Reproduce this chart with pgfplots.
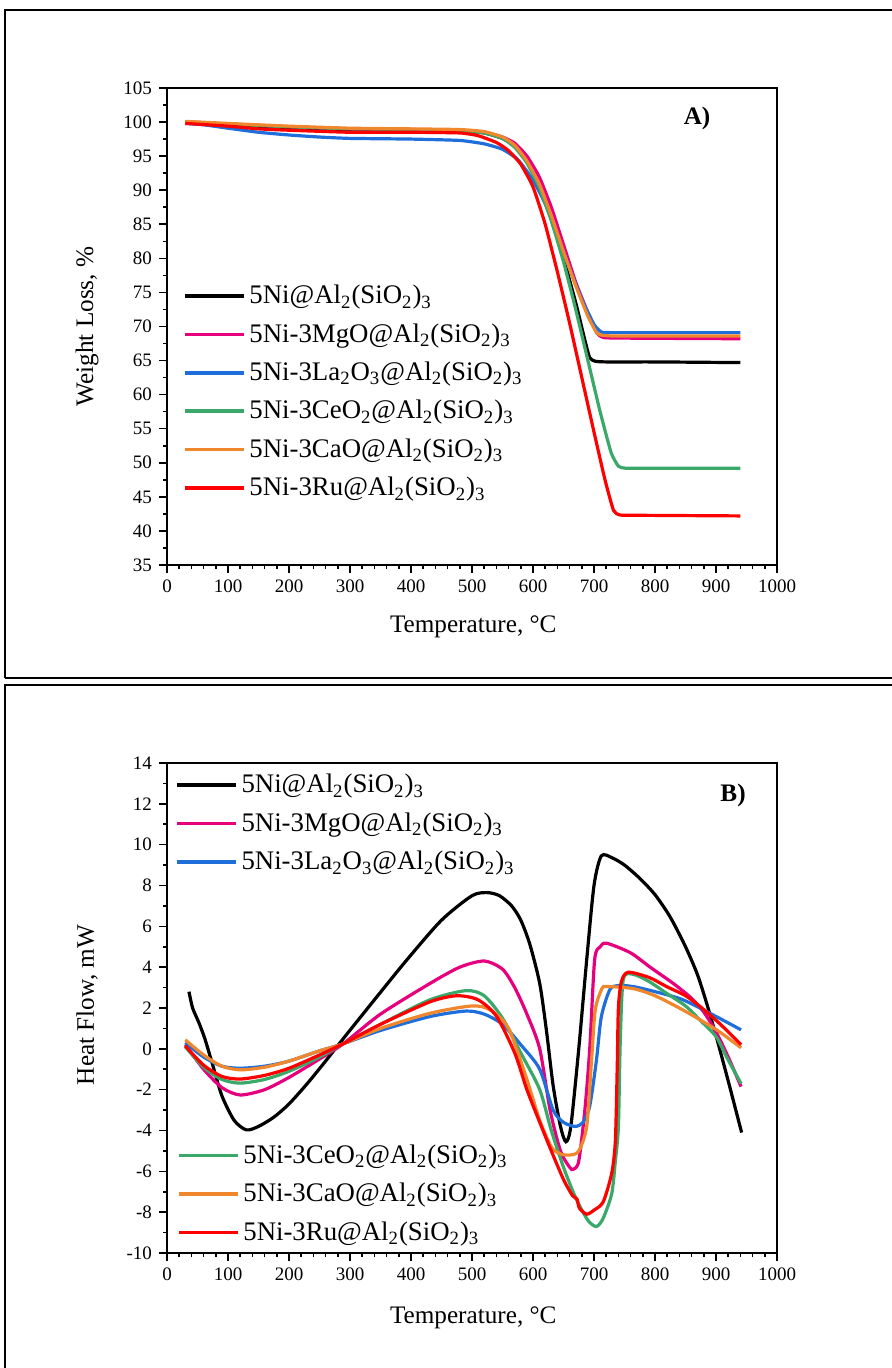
\documentclass[border=0pt]{standalone}
\usepackage{fontspec}
\setmainfont{Liberation Serif}
\usepackage{pgfplots}
\pgfplotsset{compat=1.18}
\definecolor{cMg}{RGB}{230,0,126}
\definecolor{cLa}{RGB}{30,110,220}
\definecolor{cCe}{RGB}{58,168,104}
\definecolor{cCa}{RGB}{240,135,45}
\definecolor{cRu}{RGB}{255,0,0}
\pgfplotsset{
  myax/.style={scale only axis, width=305pt, xmin=0, xmax=1000,
    xtick distance=100, minor x tick num=4, minor y tick num=1,
    axis line style={line width=1pt},
    every tick/.style={black, line width=0.8pt},
    major tick length=4pt, minor tick length=2pt, tick align=outside,
    xtick pos=bottom, ytick pos=left,
    ticklabel style={font=\fontsize{9.5}{11}\selectfont},
    /pgf/number format/assume math mode=true,
    /pgf/number format/1000 sep={},
    label style={font=\fontsize{12.6}{15}\selectfont},
    xlabel={Temperature, °C},
    xlabel style={at={(axis description cs:0.502,-0.13)}, anchor=center},
    ylabel style={at={(axis description cs:-0.131,0.5)}, anchor=center},
    legend style={draw=none, fill=none, font=\fontsize{13.4}{15.5}\selectfont,
      row sep=4.4pt, inner sep=0pt, outer sep=0pt},
    legend cell align=left,
    legend image code/.code={\draw[#1, line width=1.8pt] (0pt,0pt) -- (29.5pt,0pt);},
    every axis plot/.append style={line width=1.6pt, smooth, tension=0.45, mark=none},
  }
}
\newcommand{\sub}[1]{\textsubscript{#1}}
\begin{document}
\begin{tikzpicture}
\useasboundingbox (0,0) rectangle (446pt,684pt);
\draw[line width=1pt] (2.5pt,345pt) -- (2.5pt,679pt) -- (446pt,679pt);
\draw[line width=1pt] (2.5pt,345pt) -- (446pt,345pt);
\draw[line width=1pt] (446pt,341.5pt) -- (2.5pt,341.5pt) -- (2.5pt,0pt);
% ---------------- A ----------------
\begin{axis}[myax, at={(83.5pt,401.5pt)}, anchor=south west, height=238.5pt,
  ymin=35, ymax=105, ytick distance=5,
  ylabel={Weight Loss, \%},
  every axis plot/.append style={tension=0.3},
  legend style={at={(axis description cs:0.026,0.595)}, anchor=north west}]
\addplot[black] coordinates {(30,100)(60,99.9)(100,99.6)(150,99.3)(200,99.1)(300,98.9)(400,98.8)(480,98.7)(520,98.4)(550,97.6)(570,96.5)(590,94.5)(610,91)(630,86)(650,80)(670,73.5)(685,68)(693,65.4)(702,64.9)(720,64.8)(800,64.8)(940,64.7)};
\addplot[cMg] coordinates {(30,100)(100,99.7)(200,99.3)(300,99)(400,98.9)(480,98.8)(520,98.5)(550,97.8)(570,96.9)(590,95)(610,92)(630,87.5)(650,82)(670,76.5)(690,72)(705,69)(715,68.4)(740,68.3)(940,68.2)};
\addplot[cLa] coordinates {(30,99.8)(60,99.6)(100,99.1)(150,98.5)(200,98.1)(250,97.8)(300,97.6)(400,97.5)(480,97.3)(520,96.8)(550,96)(575,94.5)(600,91.5)(620,88)(640,83.5)(660,78.5)(680,74)(700,70.3)(712,69.2)(730,69.1)(940,69.1)};
\addplot[cCe] coordinates {(30,100)(100,99.7)(200,99.3)(300,99)(400,98.9)(480,98.7)(520,98.4)(550,97.6)(570,96.3)(590,94)(610,90.5)(630,85.5)(650,79.5)(670,72.5)(690,65)(710,57.5)(728,51.5)(740,49.5)(752,49.2)(800,49.2)(940,49.2)};
\addplot[cCa] coordinates {(30,100.1)(100,99.8)(200,99.4)(300,99.1)(400,99)(480,98.9)(520,98.6)(550,97.8)(570,96.6)(590,94.3)(610,91)(630,86.3)(650,81)(670,76)(690,71.5)(705,69)(715,68.7)(740,68.6)(940,68.6)};
\addplot[cRu] coordinates {(30,99.8)(100,99.4)(150,99)(200,98.8)(300,98.5)(400,98.5)(480,98.4)(510,98)(540,97)(560,95.8)(580,93.8)(600,90.5)(620,85)(640,78)(660,70.5)(680,62.5)(700,54.5)(718,47.5)(732,43)(742,42.35)(760,42.3)(940,42.2)};
\legend{5Ni@Al\sub{2}(SiO\sub{2})\sub{3}, 5Ni-3MgO@Al\sub{2}(SiO\sub{2})\sub{3}, 5Ni-3La\sub{2}O\sub{3}@Al\sub{2}(SiO\sub{2})\sub{3}, 5Ni-3CeO\sub{2}@Al\sub{2}(SiO\sub{2})\sub{3}, 5Ni-3CaO@Al\sub{2}(SiO\sub{2})\sub{3}, 5Ni-3Ru@Al\sub{2}(SiO\sub{2})\sub{3}}
\node[font=\fontsize{12.6}{15}\selectfont\bfseries] at (axis cs:869,100.6) {A)};
\end{axis}
% ---------------- B ----------------
\begin{axis}[myax, at={(83.5pt,57.5pt)}, anchor=south west, height=245pt,
  ymin=-10, ymax=14, ytick distance=2,
  ylabel={Heat Flow, mW},
  xlabel style={at={(axis description cs:0.502,-0.133)}},
  ylabel style={at={(axis description cs:-0.131,0.506)}},
  legend style={at={(axis description cs:0.013,0.985)}, anchor=north west}]
\addplot[black] coordinates {(36,2.8)(42,2.0)(52,1.3)(62,0.5)(75,-0.8)(90,-2.3)(110,-3.5)(130,-3.97)(150,-3.8)(175,-3.35)(200,-2.7)(230,-1.7)(260,-0.6)(289,0.5)(340,2.4)(393,4.35)(450,6.3)(500,7.5)(525,7.65)(545,7.5)(565,7.0)(580,6.3)(595,5.1)(611,3.2)(622,0.9)(633,-1.8)(645,-3.8)(654,-4.55)(662,-3.8)(675,0)(688,4.35)(700,8)(712,9.45)(730,9.35)(750,9.0)(775,8.35)(800,7.55)(825,6.45)(850,5.0)(870,3.6)(888,1.9)(905,0.1)(922,-1.8)(942,-4.1)};
\addplot[cMg] coordinates {(30,0.2)(60,-1.0)(90,-1.9)(120,-2.26)(160,-2.0)(200,-1.4)(250,-0.5)(289,0.25)(350,1.7)(431,3.2)(480,4.0)(520,4.3)(550,3.9)(570,3.0)(590,1.7)(611,0.0)(628,-3.0)(645,-5)(660,-5.8)(666,-5.9)(675,-5.5)(685,-3)(693,0)(701,4.35)(710,5.0)(721,5.17)(760,4.7)(792,4.0)(830,3.2)(857,2.55)(880,1.8)(901,0.77)(920,-0.4)(941,-1.85)};
\addplot[cLa] coordinates {(30,0.3)(60,-0.4)(90,-0.85)(120,-0.95)(160,-0.85)(200,-0.6)(250,-0.1)(289,0.25)(350,0.9)(431,1.58)(490,1.85)(520,1.7)(550,1.2)(580,0.2)(611,-1.0)(633,-3.0)(650,-3.6)(669,-3.8)(682,-3.6)(693,-2.8)(704,-0.55)(712,1.57)(726,2.9)(740,3.1)(764,3.05)(800,2.8)(846,2.4)(901,1.57)(941,0.93)};
\addplot[cCe] coordinates {(30,0.1)(60,-0.9)(90,-1.5)(120,-1.68)(160,-1.5)(200,-1.1)(250,-0.4)(289,0.25)(350,1.2)(431,2.4)(490,2.85)(520,2.6)(550,1.5)(580,-0.2)(611,-2.0)(630,-4)(650,-5.8)(670,-7.3)(690,-8.4)(704,-8.7)(715,-8.3)(729,-7.1)(735,-5.5)(740,-3.8)(743,0.3)(748,3.4)(764,3.65)(790,3.3)(819,2.72)(850,2.1)(874,1.4)(900,0.6)(917,-0.38)(941,-1.7)};
\addplot[cCa] coordinates {(30,0.44)(60,-0.3)(90,-0.85)(120,-1.03)(160,-0.9)(200,-0.6)(250,-0.1)(289,0.25)(350,1.0)(431,1.74)(500,2.1)(530,1.9)(560,1.0)(590,-1.5)(611,-3.5)(630,-4.8)(645,-5.15)(661,-5.2)(675,-5.0)(688,-3.8)(696,-0.55)(702,1.9)(713,2.95)(721,3.05)(764,2.95)(800,2.6)(846,1.9)(901,0.93)(941,0.05)};
\addplot[cRu] coordinates {(30,0.14)(60,-0.8)(90,-1.35)(120,-1.48)(160,-1.3)(200,-0.95)(250,-0.3)(289,0.25)(350,1.2)(431,2.3)(475,2.6)(510,2.4)(540,1.6)(570,-0.2)(590,-2)(611,-3.6)(630,-5)(650,-6.4)(665,-7.2)(672,-7.35)(676,-7.8)(688,-8.1)(700,-7.9)(715,-7.5)(729,-6.1)(735,-4.5)(738,-1)(740,2)(745,3.3)(756,3.75)(790,3.5)(819,3.05)(850,2.6)(874,2.07)(900,1.4)(917,0.92)(941,0.2)};
\legend{5Ni@Al\sub{2}(SiO\sub{2})\sub{3}, 5Ni-3MgO@Al\sub{2}(SiO\sub{2})\sub{3}, 5Ni-3La\sub{2}O\sub{3}@Al\sub{2}(SiO\sub{2})\sub{3}}
\node[font=\fontsize{12.6}{15}\selectfont\bfseries] at (axis cs:928,12.43) {B)};
\end{axis}
\begin{axis}[myax, at={(83.5pt,57.5pt)}, anchor=south west, height=245pt,
  ymin=-10, ymax=14, hide axis, xlabel={}, 
  legend style={at={(axis description cs:0.016,0.012)}, anchor=south west}]
\addlegendimage{cCe}
\addlegendimage{cCa}
\addlegendimage{cRu}
\legend{5Ni-3CeO\sub{2}@Al\sub{2}(SiO\sub{2})\sub{3}, 5Ni-3CaO@Al\sub{2}(SiO\sub{2})\sub{3}, 5Ni-3Ru@Al\sub{2}(SiO\sub{2})\sub{3}}
\end{axis}
\end{tikzpicture}
\end{document}
